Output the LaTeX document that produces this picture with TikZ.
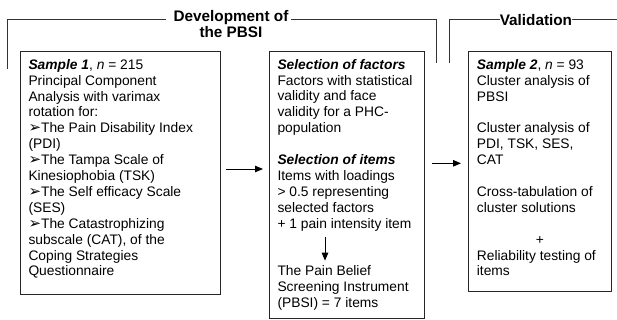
\documentclass[tikz,border=0pt]{standalone}
\usepackage{fontspec}
\setmainfont{Liberation Sans}
\newfontfamily\dingfont{DejaVu Sans}
\usetikzlibrary{arrows.meta}
\newcommand\bul{{\dingfont\fontsize{15}{15.9}\selectfont ➢}}
\begin{document}
\begin{tikzpicture}[x=1pt,y=-1pt,
  txt/.style={font=\fontsize{13.8}{15.9}\selectfont, align=left, inner sep=0pt, anchor=north west},
  ttl/.style={font=\bfseries\fontsize{15.3}{16}\selectfont, align=center, inner sep=0pt},
  frame/.style={draw=black!85, line width=0.9pt, inner sep=0pt, anchor=north west},
  ln/.style={draw=black!80, line width=0.9pt},
  arr/.style={draw=black, line width=0.9pt, -{Triangle[length=8pt,width=6.5pt]}}]
\useasboundingbox (0,0) rectangle (617,320);

% boxes
\node[frame, minimum width=199.7pt, minimum height=243pt] (b1) at (20.3,50.7) {};
\node[frame, minimum width=155.3pt, minimum height=267.3pt] (b2) at (269,50.7) {};
\node[frame, minimum width=142.7pt, minimum height=240.3pt] (b3) at (468.3,50.7) {};

% box texts
\node[txt] (t1) at (28.3,58) {\rule{0pt}{11pt}\textbf{\textit{Sample 1}}, \textit{n} = 215\\
Principal Component\\
Analysis with varimax\\
rotation for:\\
\bul The Pain Disability Index\\
(PDI)\\
\bul The Tampa Scale of\\
Kinesiophobia (TSK)\\
\bul The Self efficacy Scale\\
(SES)\\
\bul The Catastrophizing\\
subscale (CAT), of the\\
Coping Strategies\\
Questionnaire};

\node[txt] (t2a) at (277.3,58) {\rule{0pt}{11pt}\textbf{\textit{Selection of factors}}\\
Factors with statistical\\
validity and face\\
validity for a PHC-\\
population\\[15.9pt]
\textbf{\textit{Selection of items}}\\
Items with loadings\\
> 0.5 representing\\
selected factors\\
+ 1 pain intensity item};

\node[txt] (t2b) at (277.3,264.7) {\rule{0pt}{11pt}The Pain Belief\\
Screening Instrument\\
(PBSI) = 7 items};

\node[txt] (t3) at (476.7,58) {\rule{0pt}{11pt}\textbf{\textit{Sample 2}}, \textit{n} = 93\\
Cluster analysis of\\
PBSI\\[15.9pt]
Cluster analysis of\\
PDI, TSK, SES,\\
CAT\\[15.9pt]
Cross-tabulation of\\
cluster solutions\\[15.9pt]
\hspace*{59pt}+\\
Reliability testing of\\
items};

% titles and brackets
\node[ttl, anchor=north] (dev) at (231,9.5) {\rule{0pt}{12pt}Development of\\the PBSI};
\node[ttl, anchor=base] (val) at (535.9,26) {Validation};

\draw[ln, shorten >=7pt] (7.7,69) -- (7.7,19.3) -- (dev.west |- 0,19.3);
\draw[ln, shorten <=2pt] (dev.east |- 0,19.3) -- (436.7,19.3) -- (436.7,62.7);
\draw[ln] (449.3,62.7) -- (449.3,19.3) -- (val.west |- 0,19.3);
\draw[ln] (val.east |- 0,19.3) -- (617,19.3);

% arrows
\draw[arr, shorten <=5pt, shorten >=6pt] (b1.east |- 0,169) -- (b2.west |- 0,169);
\draw[arr, shorten <=6.7pt, shorten >=7.3pt] (b2.east |- 0,163.3) -- (b3.west |- 0,163.3);
\draw[arr, shorten <=5.7pt, shorten >=4pt] (t2a.south -| 325,0) -- (t2b.north -| 325,0);
\end{tikzpicture}
\end{document}
